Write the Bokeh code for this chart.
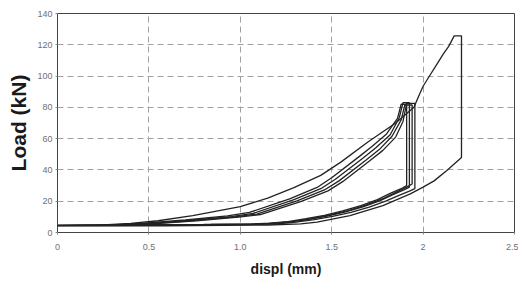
from bokeh.plotting import figure
from bokeh.models import Range1d, FixedTicker
from bokeh.embed import file_html
from bokeh.resources import INLINE

# ---- data ----
x_ticks = [0, 0.5, 1.0, 1.5, 2.0, 2.5]
x_tick_labels = ["0", "0.5", "1.0", "1.5", "2", "2.5"]
y_ticks = [0, 20, 40, 60, 80, 100, 120, 140]
y_tick_labels = ["0", "20", "40", "60", "80", "100", "120", "140"]

# outer (largest) cycle
outer_load_x = [0.00, 0.20, 0.40, 0.55, 0.74, 1.00, 1.15, 1.29, 1.44, 1.55, 1.70, 1.85, 1.95, 1.975, 2.00, 2.04, 2.075, 2.11, 2.14, 2.17, 2.21]
outer_load_y = [4.3, 4.5, 5.8, 7.5, 10.8, 16.5, 22.0, 28.5, 36.5, 45.0, 58.0, 70.0, 80.0, 87.0, 93.5, 101.0, 107.5, 114.0, 119.0, 125.7, 125.7]
outer_unload_x = [2.21, 2.13, 2.06, 2.00, 1.93, 1.78, 1.60, 1.42, 1.33, 1.15, 0.90, 0.60, 0.30, 0.00]
outer_unload_y = [48.0, 39.6, 33.0, 29.0, 24.7, 17.2, 10.8, 6.6, 5.5, 4.8, 4.5, 4.3, 4.2, 4.2]

# inner cycles
c1_load_x = [0.00, 0.30, 0.47, 0.70, 0.93, 1.05, 1.27, 1.42, 1.50, 1.65, 1.72, 1.80, 1.86, 1.88, 1.91]
c1_load_y = [4.6, 4.9, 5.9, 8.0, 10.6, 12.8, 21.5, 28.8, 35.0, 48.5, 55.0, 63.0, 73.0, 82.0, 82.0]
c1_unload_x = [1.91, 1.88, 1.82, 1.75, 1.66, 1.56, 1.46, 1.36, 1.26, 1.16, 1.06, 0.80, 0.40, 0.00]
c1_unload_y = [30.0, 28.0, 25.0, 21.0, 17.2, 13.8, 11.0, 8.8, 7.0, 5.9, 5.4, 5.1, 4.8, 4.6]

c2_load_x = [0.00, 0.32, 0.49, 0.72, 0.95, 1.07, 1.29, 1.44, 1.52, 1.67, 1.74, 1.82, 1.87, 1.89, 1.925]
c2_load_y = [4.5, 4.8, 5.7, 7.8, 10.2, 12.2, 20.8, 28.0, 34.0, 47.5, 54.0, 62.5, 73.5, 83.0, 83.0]
c2_unload_x = [1.925, 1.895, 1.835, 1.765, 1.675, 1.575, 1.475, 1.375, 1.275, 1.175, 1.075, 0.82, 0.42, 0.00]
c2_unload_y = [29.0, 27.2, 24.2, 20.4, 16.6, 13.2, 10.5, 8.4, 6.8, 5.8, 5.3, 5.0, 4.7, 4.5]

c3_load_x = [0.00, 0.34, 0.50, 0.74, 0.97, 1.09, 1.31, 1.46, 1.54, 1.69, 1.76, 1.83, 1.88, 1.90, 1.94]
c3_load_y = [4.5, 4.8, 5.6, 7.6, 10.0, 11.8, 20.2, 27.2, 33.0, 46.5, 53.0, 61.5, 72.0, 81.5, 81.5]
c3_unload_x = [1.94, 1.91, 1.85, 1.78, 1.69, 1.59, 1.49, 1.39, 1.29, 1.19, 1.09, 0.84, 0.44, 0.00]
c3_unload_y = [31.0, 29.0, 25.6, 21.6, 17.6, 14.0, 11.2, 8.9, 7.1, 6.0, 5.4, 5.1, 4.8, 4.5]

c4_load_x = [0.00, 0.36, 0.52, 0.76, 0.99, 1.11, 1.33, 1.48, 1.56, 1.71, 1.78, 1.85, 1.89, 1.91, 1.955]
c4_load_y = [4.4, 4.7, 5.5, 7.4, 9.8, 11.5, 19.8, 26.6, 32.5, 46.0, 52.5, 61.0, 71.0, 82.5, 82.5]
c4_unload_x = [1.955, 1.925, 1.865, 1.795, 1.705, 1.605, 1.505, 1.405, 1.305, 1.205, 1.105, 0.86, 0.46, 0.00]
c4_unload_y = [28.0, 26.5, 23.6, 20.0, 16.2, 12.9, 10.3, 8.2, 6.6, 5.6, 5.2, 4.9, 4.6, 4.4]

cycles = [
    (outer_load_x, outer_load_y, outer_unload_x, outer_unload_y),
    (c1_load_x, c1_load_y, c1_unload_x, c1_unload_y),
    (c2_load_x, c2_load_y, c2_unload_x, c2_unload_y),
    (c3_load_x, c3_load_y, c3_unload_x, c3_unload_y),
    (c4_load_x, c4_load_y, c4_unload_x, c4_unload_y),
]

# ---- figure ----
p = figure(width=518, height=284, output_backend="svg", toolbar_location=None,
           x_range=Range1d(0, 2.5), y_range=Range1d(0, 140),
           min_border_left=57, min_border_right=4, min_border_top=13, min_border_bottom=52)
p.background_fill_color = "white"
p.border_fill_color = "white"
p.outline_line_color = "#444444"
p.outline_line_width = 1

for lx, ly, ux, uy in cycles:
    p.line(lx + ux, ly + uy, line_color="#232323", line_width=1.3)

FONT = "Liberation Sans"
for ax, ticks, labels in ((p.xaxis, x_ticks, x_tick_labels), (p.yaxis, y_ticks, y_tick_labels)):
    ax.ticker = FixedTicker(ticks=ticks)
    ax.major_label_overrides = {t: l for t, l in zip(ticks, labels)}
    ax.axis_line_color = None
    ax.major_tick_line_color = "#888888"
    ax.major_tick_in = 0
    ax.major_tick_out = 2
    ax.minor_tick_line_color = None
    ax.major_label_text_font = FONT
    ax.major_label_text_font_size = "9px"
    ax.major_label_text_color = "#707070"
    ax.axis_label_text_font = FONT
    ax.axis_label_text_font_style = "bold"
    ax.axis_label_text_color = "#1a1a1a"

p.xaxis.axis_label = "displ (mm)"
p.xaxis.axis_label_text_font_size = "14px"
p.xaxis.major_label_standoff = 9
p.xaxis.axis_label_standoff = 8
p.yaxis.axis_label = "Load (kN)"
p.yaxis.axis_label_text_font_size = "21px"
p.yaxis.major_label_standoff = 3
p.yaxis.axis_label_standoff = 4

for g in (p.xgrid, p.ygrid):
    g.grid_line_color = "#a0a0a0"
    g.grid_line_dash = "6 4"
    g.grid_line_width = 1
p.xgrid.ticker = FixedTicker(ticks=x_ticks)
p.ygrid.ticker = FixedTicker(ticks=y_ticks)

open("out.html", "w").write(file_html(p, INLINE))
